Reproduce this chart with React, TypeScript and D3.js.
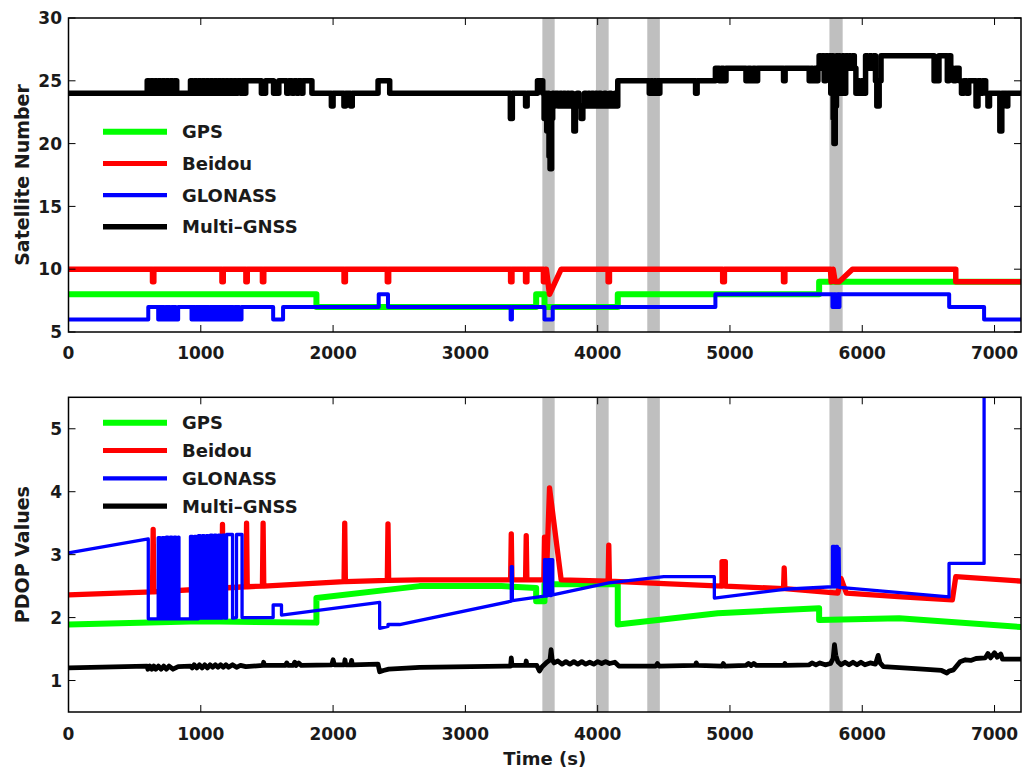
import React from 'react';
import * as d3 from 'd3';

type P = [number, number];

// ---------- axes ----------
const X_DOMAIN: P = [0, 7200];
const X_TICKS = [0, 1000, 2000, 3000, 4000, 5000, 6000, 7000];
const SAT_DOMAIN: P = [5, 30];
const SAT_TICKS = [5, 10, 15, 20, 25, 30];
const PDOP_DOMAIN: P = [0.5, 5.5];
const PDOP_TICKS = [1, 2, 3, 4, 5];
const OUTAGE_BANDS: P[] = [[3582, 3675], [3987, 4083], [4375, 4470], [5752, 5852]];
const SERIES_NAMES = ['GPS', 'Beidou', 'GLONASS', 'Multi\u2013GNSS'];
const SERIES_COLORS = ['#00ff00', '#ff0000', '#0000ff', '#000000'];

// ---------- satellite numbers (step-after: value held from t until next t) ----------
const GPS_SAT: P[] = [[0, 8], [1874, 7], [3535, 8], [3598, 7], [4152, 8], [5674, 9], [7200, 9]];

const GLONASS_SAT: P[] = [
  [0, 6], [603, 7], [678, 6], [690, 7], [700, 6], [712, 7], [722, 6], [735, 7], [745, 6], [757, 7], [767, 6], [780, 7], [790, 6], [802, 7], [812, 6], [829, 7],
  [930, 6], [942, 7], [952, 6], [964, 7], [974, 6], [986, 7], [996, 6], [1008, 7], [1018, 6], [1030, 7], [1040, 6], [1052, 7], [1062, 6], [1074, 7], [1084, 6], [1096, 7],
  [1106, 6], [1118, 7], [1128, 6], [1140, 7], [1150, 6], [1162, 7], [1172, 6], [1182, 7], [1192, 6], [1204, 7], [1214, 6], [1225, 7], [1245, 6], [1258, 7], [1270, 6], [1282, 7], [1292, 6], [1308, 7],
  [1547, 6], [1622, 7], [2345, 8], [2415, 7], [3342, 6], [3352, 7], [3598, 6], [3660, 7], [4890, 8],
  [5775, 7], [5787, 8], [5797, 7], [5810, 8], [5818, 7], [5828, 8], [6657, 7], [6921, 6], [7200, 6],
];

const MULTI_SAT: P[] = [
  [0, 24],
  [595, 25], [610, 24], [622, 25], [640, 24], [652, 25], [668, 24], [680, 25], [698, 24], [710, 25], [728, 24], [740, 25], [758, 24], [770, 25], [788, 24], [800, 25], [818, 24],
  [922, 25], [938, 24], [950, 25], [968, 24], [980, 25], [998, 24], [1010, 25], [1028, 24], [1040, 25], [1058, 24], [1070, 25], [1088, 24], [1100, 25], [1118, 24], [1130, 25],
  [1148, 24], [1160, 25], [1178, 24], [1190, 25], [1208, 24], [1220, 25], [1238, 24], [1250, 25], [1268, 24], [1280, 25], [1300, 24], [1312, 25], [1330, 24], [1340, 25],
  [1458, 24], [1490, 25], [1550, 24], [1590, 25], [1650, 24], [1665, 25], [1690, 24], [1705, 25], [1725, 24], [1738, 25], [1760, 24], [1772, 25], [1840, 24],
  [1987, 23], [2000, 24], [2082, 23], [2095, 24], [2132, 23], [2145, 24], [2340, 25], [2428, 24],
  [3340, 22], [3355, 24], [3455, 23], [3467, 24], [3545, 25], [3585, 24], [3595, 22], [3605, 24], [3615, 21], [3625, 24], [3632, 19], [3640, 18], [3652, 22], [3660, 24], [3668, 23], [3680, 24],
  [3700, 23], [3715, 24], [3728, 23], [3742, 24], [3755, 23], [3770, 24], [3783, 23], [3798, 24], [3810, 23], [3820, 21], [3832, 23], [3845, 24], [3858, 23], [3875, 22], [3888, 23],
  [3900, 24], [3913, 23], [3928, 24], [3940, 23], [3955, 24], [3968, 23], [3983, 24], [3995, 23], [4010, 24], [4025, 23], [4050, 24], [4062, 23], [4090, 24], [4102, 23], [4130, 24], [4140, 23],
  [4152, 25], [4390, 24], [4402, 25], [4415, 24], [4428, 25], [4440, 24], [4453, 25], [4462, 24], [4470, 25], [4740, 24], [4752, 25],
  [4890, 26], [4919, 25], [4935, 26], [4952, 25], [4970, 26], [5121, 25], [5140, 26], [5155, 25], [5175, 26], [5190, 25], [5209, 26], [5405, 25], [5417, 26],
  [5599, 25], [5612, 26], [5625, 25], [5640, 26], [5652, 25], [5665, 26],
  [5674, 27], [5688, 26], [5700, 27], [5712, 25], [5725, 27], [5738, 26], [5750, 27], [5762, 24], [5772, 27], [5780, 22], [5786, 20], [5796, 23], [5805, 27], [5815, 25], [5825, 27],
  [5832, 24], [5850, 27], [5862, 24], [5875, 27], [5888, 26], [5900, 27], [5912, 26], [5925, 27], [5940, 26], [5952, 24], [5968, 25], [5980, 24], [5995, 25], [6010, 24],
  [6025, 27], [6040, 26], [6055, 27], [6070, 26], [6085, 27], [6100, 25], [6110, 23], [6128, 25], [6142, 27],
  [6543, 25], [6580, 27], [6643, 25], [6655, 27], [6669, 26], [6690, 25], [6705, 26], [6732, 25], [6750, 24], [6768, 25], [6790, 24], [6805, 25],
  [6860, 23], [6875, 25], [6895, 24], [6910, 25], [6933, 24], [6950, 23], [6962, 24], [7040, 21], [7055, 24], [7090, 23], [7100, 24], [7200, 24],
];

// Beidou satellites (linear, corners listed)
const BEIDOU_SAT: P[] = [
  [0, 10], [635, 10], [635, 9], [645, 9], [645, 10], [1160, 10], [1160, 9], [1170, 9], [1170, 10], [1341, 10], [1341, 9], [1351, 9], [1351, 10],
  [1466, 10], [1466, 9], [1476, 9], [1476, 10], [2083, 10], [2083, 9], [2093, 9], [2093, 10], [2410, 10], [2410, 9], [2420, 9], [2420, 10],
  [3342, 10], [3342, 9], [3352, 9], [3352, 10], [3455, 10], [3455, 9], [3465, 9], [3465, 10], [3590, 10], [3590, 9], [3605, 9], [3605, 10], [3612, 10],
  [3636, 8], [3724, 10], [4079, 10], [4079, 9], [4089, 9], [4089, 10], [4945, 10], [4945, 9], [4958, 9], [4958, 10], [5405, 10], [5405, 9], [5415, 9], [5415, 10],
  [5760, 10], [5765, 9], [5780, 10], [5795, 9], [5826, 9], [5926, 10], [6707, 10], [6707, 9], [7200, 9],
];

// ---------- PDOP (linear, corners listed) ----------
const GPS_PDOP: P[] = [
  [0, 1.89], [1000, 1.94], [1874, 1.92], [1874, 2.31], [2654, 2.5], [3272, 2.5], [3535, 2.47], [3535, 2.26], [3598, 2.26], [3598, 2.53],
  [4152, 2.53], [4152, 1.89], [4908, 2.07], [5674, 2.15], [5674, 1.96], [6279, 1.99], [7200, 1.85],
];

const BEIDOU_PDOP: P[] = [
  [0, 2.36], [635, 2.41], [640, 3.4], [645, 2.41], [1159, 2.47], [1164, 3.48], [1169, 2.47], [1341, 2.49], [1346, 3.5], [1351, 2.49],
  [1466, 2.5], [1471, 3.5], [1476, 2.5], [2083, 2.57], [2088, 3.5], [2093, 2.57], [2410, 2.59], [2415, 3.49], [2420, 2.59], [2654, 2.6],
  [3342, 2.6], [3347, 3.33], [3352, 2.6], [3455, 2.6], [3460, 3.3], [3465, 2.6], [3593, 2.6], [3598, 3.28], [3603, 2.6], [3612, 2.6],
  [3636, 4.06], [3724, 2.6], [4079, 2.58], [4084, 3.15], [4089, 2.58], [4500, 2.54], [4940, 2.5], [4940, 2.89], [4965, 2.89], [4965, 2.5],
  [5405, 2.46], [5410, 2.79], [5415, 2.46], [5815, 2.39], [5840, 2.62], [5880, 2.39], [6300, 2.33], [6681, 2.28], [6707, 2.65], [7200, 2.58],
];

const GLONASS_PDOP: P[] = [
  [0, 3.03], [603, 3.25], [603, 1.98],
  [678, 1.98], [678, 3.27], [693, 3.27], [693, 1.98], [708, 1.98], [708, 3.27], [723, 3.27], [723, 1.98], [738, 1.98], [738, 3.28], [753, 3.28], [753, 1.98],
  [768, 1.98], [768, 3.28], [783, 3.28], [783, 1.98], [798, 1.98], [798, 3.28], [813, 3.28], [813, 1.98], [829, 1.98], [829, 3.28], [835, 3.28], [835, 1.98],
  [922, 1.98], [922, 3.29], [937, 3.29], [937, 1.98], [952, 1.98], [952, 3.29], [967, 3.29], [967, 1.98], [982, 1.98], [982, 3.3], [997, 3.3], [997, 1.99],
  [1012, 1.99], [1012, 3.3], [1027, 3.3], [1027, 1.99], [1042, 1.99], [1042, 3.3], [1057, 3.3], [1057, 1.99], [1072, 1.99], [1072, 3.31], [1087, 3.31], [1087, 1.99],
  [1102, 1.99], [1102, 3.31], [1117, 3.31], [1117, 1.99], [1132, 1.99], [1132, 3.31], [1147, 3.31], [1147, 1.99], [1162, 1.99], [1162, 3.31], [1182, 3.31], [1182, 1.99],
  [1195, 1.99], [1195, 3.32], [1240, 3.32], [1240, 1.99], [1270, 2.0], [1270, 3.32], [1312, 3.32], [1312, 2.0],
  [1547, 2.0], [1547, 2.2], [1610, 2.2], [1610, 2.04], [2352, 2.24], [2352, 1.83], [2415, 1.86], [2415, 1.89], [2503, 1.89],
  [3347, 2.26], [3347, 2.81], [3355, 2.81], [3355, 2.27],
  [3598, 2.34], [3598, 2.92], [3612, 2.92], [3612, 2.34], [3625, 2.35], [3625, 2.92], [3640, 2.92], [3640, 2.35], [3650, 2.35], [3650, 2.92], [3660, 2.92], [3660, 2.36],
  [4084, 2.55], [4500, 2.65], [4882, 2.65], [4882, 2.31], [5410, 2.45], [5775, 2.49],
  [5775, 3.13], [5790, 3.13], [5790, 2.49], [5800, 2.49], [5800, 3.13], [5812, 3.13], [5812, 2.49], [5825, 2.49], [5825, 3.1], [5828, 2.48],
  [6656, 2.33], [6656, 2.86], [6921, 2.86], [6921, 5.8],
];

const MULTI_PDOP: P[] = [
  [0, 1.2], [595, 1.23], [600, 1.18], [615, 1.23], [630, 1.18], [645, 1.23], [660, 1.18], [680, 1.23], [700, 1.18], [720, 1.23], [740, 1.18], [760, 1.23], [790, 1.18], [829, 1.22],
  [922, 1.23], [935, 1.2], [950, 1.25], [970, 1.2], [990, 1.25], [1010, 1.2], [1030, 1.25], [1050, 1.2], [1070, 1.25], [1090, 1.21], [1110, 1.25], [1130, 1.21], [1150, 1.25],
  [1170, 1.21], [1190, 1.25], [1210, 1.21], [1240, 1.25], [1270, 1.21], [1300, 1.24], [1340, 1.22], [1470, 1.24], [1475, 1.29], [1480, 1.24], [1640, 1.24], [1650, 1.28],
  [1660, 1.24], [1700, 1.24], [1710, 1.29], [1720, 1.24], [1740, 1.28], [1760, 1.24], [1990, 1.25], [2000, 1.33], [2010, 1.25], [2085, 1.25], [2090, 1.33], [2095, 1.25],
  [2135, 1.25], [2140, 1.32], [2145, 1.25], [2340, 1.26], [2352, 1.14], [2380, 1.16], [2420, 1.18], [2654, 1.21], [3300, 1.23], [3342, 1.23], [3347, 1.36], [3352, 1.24],
  [3455, 1.24], [3460, 1.31], [3465, 1.24], [3540, 1.24], [3560, 1.15], [3580, 1.22], [3610, 1.28], [3640, 1.33], [3648, 1.49], [3656, 1.33], [3670, 1.28], [3700, 1.31],
  [3730, 1.26], [3760, 1.3], [3790, 1.26], [3820, 1.3], [3850, 1.26], [3880, 1.3], [3910, 1.26], [3940, 1.29], [3970, 1.26], [4000, 1.3], [4030, 1.27], [4060, 1.3],
  [4090, 1.27], [4130, 1.29], [4160, 1.23], [4440, 1.23], [4452, 1.27], [4465, 1.23], [4740, 1.24], [4745, 1.28], [4755, 1.24], [4940, 1.23], [4950, 1.27], [4960, 1.23],
  [5120, 1.24], [5140, 1.27], [5160, 1.24], [5180, 1.27], [5200, 1.24], [5410, 1.24], [5415, 1.27], [5420, 1.24], [5600, 1.25], [5620, 1.28], [5650, 1.25], [5680, 1.28],
  [5720, 1.25], [5760, 1.27], [5780, 1.35], [5790, 1.57], [5800, 1.4], [5815, 1.3], [5840, 1.25], [5870, 1.29], [5900, 1.25], [5930, 1.29], [5960, 1.25], [5990, 1.29],
  [6020, 1.25], [6060, 1.28], [6100, 1.26], [6120, 1.4], [6135, 1.28], [6160, 1.22], [6400, 1.19], [6600, 1.16], [6640, 1.12], [6656, 1.15], [6690, 1.17], [6740, 1.3],
  [6780, 1.33], [6820, 1.32], [6860, 1.35], [6930, 1.36], [6950, 1.43], [6970, 1.36], [7000, 1.44], [7020, 1.37], [7047, 1.42], [7060, 1.34], [7200, 1.34],
];

// ---------- layout ----------
const W = 1022;
const H = 771;
const LEFT = 68.5;
const RIGHT = 1021;
const FONT = '"DejaVu Sans", "Liberation Sans", Arial, sans-serif';

interface Panel {
  id: string;
  top: number;
  bottom: number;
  domain: P;
  ticks: number[];
  title: string;
  titleSize: number;
  lines: { data: P[]; step: boolean; width: number }[];
  legendY0: number;
  legendDy: number;
  legendWidths: number[];
  xLabelY: number;
}

const x = d3.scaleLinear().domain(X_DOMAIN).range([LEFT, RIGHT]);

const panels: Panel[] = [
  {
    id: 'sat', top: 18, bottom: 332, domain: SAT_DOMAIN, ticks: SAT_TICKS, title: 'Satellite Number', titleSize: 19,
    lines: [
      { data: GPS_SAT, step: true, width: 6 },
      { data: BEIDOU_SAT, step: false, width: 5.5 },
      { data: GLONASS_SAT, step: true, width: 4 },
      { data: MULTI_SAT, step: true, width: 5.5 },
    ],
    legendY0: 131.7, legendDy: 31.7, legendWidths: [6, 5, 4.3, 5.5], xLabelY: 359,
  },
  {
    id: 'pdop', top: 397.3, bottom: 712, domain: PDOP_DOMAIN, ticks: PDOP_TICKS, title: 'PDOP Values', titleSize: 19,
    lines: [
      { data: GPS_PDOP, step: false, width: 6 },
      { data: BEIDOU_PDOP, step: false, width: 5.3 },
      { data: GLONASS_PDOP, step: false, width: 3.3 },
      { data: MULTI_PDOP, step: false, width: 4.8 },
    ],
    legendY0: 422.7, legendDy: 27.8, legendWidths: [6, 5, 4.3, 5.3], xLabelY: 740,
  },
];

function PanelView({ p }: { p: Panel }) {
  const y = d3.scaleLinear().domain(p.domain).range([p.bottom, p.top]);
  const tick = 7;
  return (
    <g>
      <defs>
        <clipPath id={`clip-${p.id}`}>
          <rect x={LEFT} y={p.top} width={RIGHT - LEFT} height={p.bottom - p.top} />
        </clipPath>
      </defs>
      {OUTAGE_BANDS.map(([a, b], i) => (
        <rect key={i} x={x(a)} y={p.top} width={x(b) - x(a)} height={p.bottom - p.top} fill="#bfbfbf" />
      ))}
      <g clipPath={`url(#clip-${p.id})`}>
        {p.lines.map((l, i) => {
          const gen = d3.line<P>().x((d) => x(d[0])).y((d) => y(d[1])).curve(l.step ? d3.curveStepAfter : d3.curveLinear);
          return (
            <path key={i} d={gen(l.data) || ''} fill="none" stroke={SERIES_COLORS[i]} strokeWidth={l.width}
              strokeLinejoin="round" strokeLinecap="round" />
          );
        })}
      </g>
      {/* ticks */}
      {X_TICKS.map((t) => (
        <g key={`x${t}`}>
          <line x1={x(t)} x2={x(t)} y1={p.bottom} y2={p.bottom - tick} stroke="#000" strokeWidth={1} />
          <line x1={x(t)} x2={x(t)} y1={p.top} y2={p.top + tick} stroke="#000" strokeWidth={1} />
          <text x={x(t)} y={p.xLabelY} textAnchor="middle" fontSize={17} fontWeight="bold" fontFamily={FONT} fill="#1a1a1a">{t}</text>
        </g>
      ))}
      {p.ticks.map((t) => (
        <g key={`y${t}`}>
          <line x1={LEFT} x2={LEFT + tick} y1={y(t)} y2={y(t)} stroke="#000" strokeWidth={1} />
          <line x1={RIGHT} x2={RIGHT - tick} y1={y(t)} y2={y(t)} stroke="#000" strokeWidth={1} />
          <text x={62} y={y(t)} dy="0.36em" textAnchor="end" fontSize={17} fontWeight="bold" fontFamily={FONT} fill="#1a1a1a">{t}</text>
        </g>
      ))}
      <rect x={LEFT} y={p.top} width={RIGHT - LEFT} height={p.bottom - p.top} fill="none" stroke="#000" strokeWidth={1.5} />
      <text transform={`translate(22,${(p.top + p.bottom) / 2}) rotate(-90)`} textAnchor="middle" dy="0.36em"
        fontSize={p.titleSize} fontWeight="bold" fontFamily={FONT} fill="#1a1a1a">{p.title}</text>
      {/* legend */}
      {SERIES_NAMES.map((name, i) => {
        const ly = p.legendY0 + i * p.legendDy;
        return (
          <g key={name}>
            <line x1={103} x2={167} y1={ly} y2={ly} stroke={SERIES_COLORS[i]} strokeWidth={p.legendWidths[i]} />
            <text x={182} y={ly} dy="0.36em" fontSize={18} fontWeight="bold" fontFamily={FONT} fill="#1a1a1a">{name}</text>
          </g>
        );
      })}
    </g>
  );
}

export default function App() {
  return (
    <svg width={W} height={H} viewBox={`0 0 ${W} ${H}`} style={{ position: 'absolute', left: 0, top: 0, background: '#fff' }}>
      <rect x={0} y={0} width={W} height={H} fill="#fff" />
      {panels.map((p) => <PanelView key={p.id} p={p} />)}
      <text x={(LEFT + RIGHT) / 2} y={765} textAnchor="middle" fontSize={18} fontWeight="bold" fontFamily={FONT} fill="#1a1a1a">Time (s)</text>
    </svg>
  );
}
